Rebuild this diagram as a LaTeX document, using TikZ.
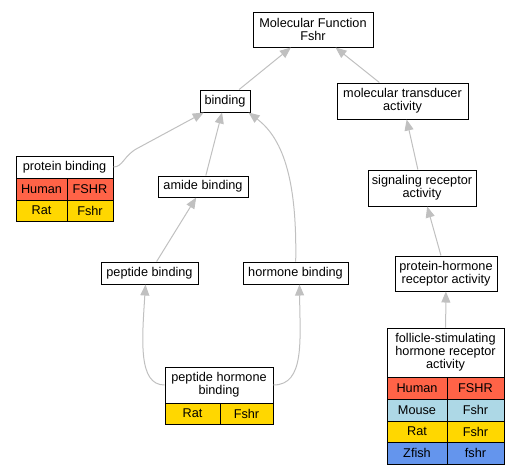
\documentclass[tikz,border=0pt]{standalone}
\usepackage{fontspec}
\setmainfont{Liberation Sans}
\usetikzlibrary{arrows.meta}
\definecolor{humanred}{HTML}{FF6347}
\definecolor{mouseblue}{HTML}{ADD8E6}
\definecolor{ratgold}{HTML}{FFD700}
\definecolor{zfishblue}{HTML}{6495ED}
\definecolor{edgegray}{HTML}{C0C0C0}

\begin{document}
\begin{tikzpicture}
  [x=1pt,y=-1pt,every node/.style={draw,line width=1pt,fill=white,inner sep=0pt,align=center,font=\fontsize{12.7}{12.8}\selectfont}]
 \tikzset{EdgeStyle/.style={draw=edgegray,line width=1pt,-{Triangle[length=11pt,width=9pt,fill=edgegray]}}}
 \useasboundingbox (0,0) rectangle (519,475);

  \node[minimum width=120pt,minimum height=35pt] (n1) at (313,29.5) {Molecular Function\\Fshr};
  \node[minimum width=50pt,minimum height=22pt] (n2) at (225,101) {binding};
  \node[minimum width=131pt,minimum height=36pt] (n3) at (402.5,101) {molecular transducer\\activity};

  \node[minimum width=97pt,minimum height=22pt] (n4) at (64.5,167) {protein binding};
  \node[minimum width=51pt,minimum height=22pt,fill=humanred] (n4a) at (41.5,189) {Human};
  \node[minimum width=46pt,minimum height=22pt,fill=humanred] (n4b) at (90,189) {FSHR};
  \node[minimum width=51pt,minimum height=21pt,fill=ratgold] (n4c) at (41.5,210.5) {Rat};
  \node[minimum width=46pt,minimum height=21pt,fill=ratgold] (n4d) at (90,210.5) {Fshr};

  \node[minimum width=90pt,minimum height=21pt] (n5) at (203,186.5) {amide binding};
  \node[minimum width=108pt,minimum height=36pt] (n6) at (422,188) {signaling receptor\\activity};
  \node[minimum width=97pt,minimum height=22pt] (n7) at (149.5,273) {peptide binding};
  \node[minimum width=105pt,minimum height=22pt] (n8) at (295.5,273) {hormone binding};
  \node[minimum width=102pt,minimum height=35pt] (n9) at (446,273.5) {protein-hormone\\receptor activity};

  \node[minimum width=108pt,minimum height=36pt] (n10) at (219,385) {peptide hormone\\binding};
  \node[minimum width=55pt,minimum height=21pt,fill=ratgold] (n10a) at (192.5,413.5) {Rat};
  \node[minimum width=53pt,minimum height=21pt,fill=ratgold] (n10b) at (246.5,413.5) {Fshr};

  \node[minimum width=117pt,minimum height=49pt] (n11) at (445.5,352.5) {follicle-stimulating\\hormone receptor\\activity};
  \node[minimum width=60pt,minimum height=22pt,fill=humanred] (n11a) at (417,388) {Human};
  \node[minimum width=57pt,minimum height=22pt,fill=humanred] (n11b) at (475.5,388) {FSHR};
  \node[minimum width=60pt,minimum height=22pt,fill=mouseblue] (n11c) at (417,410) {Mouse};
  \node[minimum width=57pt,minimum height=22pt,fill=mouseblue] (n11d) at (475.5,410) {Fshr};
  \node[minimum width=60pt,minimum height=21pt,fill=ratgold] (n11e) at (417,431.5) {Rat};
  \node[minimum width=57pt,minimum height=21pt,fill=ratgold] (n11f) at (475.5,431.5) {Fshr};
  \node[minimum width=60pt,minimum height=22pt,fill=zfishblue] (n11g) at (417,453) {Zfish};
  \node[minimum width=57pt,minimum height=22pt,fill=zfishblue] (n11h) at (475.5,453) {fshr};

 \foreach \from/\to in {n2/n1,n3/n1,n5/n2,n7/n5,n6/n3,n9/n6,n11/n9}
    \draw[EdgeStyle] (\from) -- (\to);

 \draw[EdgeStyle] (n4.east) .. controls (123,167) and (124,155) .. (138,148) -- (n2);
 \draw[EdgeStyle] (n8) .. controls (297,185) and (285,140) .. ([xshift=-2pt]n2.south east);
 \draw[EdgeStyle] (n10.west) .. controls (138,385) and (142,340) .. ([xshift=-4pt]n7.south);
 \draw[EdgeStyle] (n10.east) .. controls (305,385) and (300,340) .. ([xshift=4pt]n8.south);

\end{tikzpicture}
\end{document}
